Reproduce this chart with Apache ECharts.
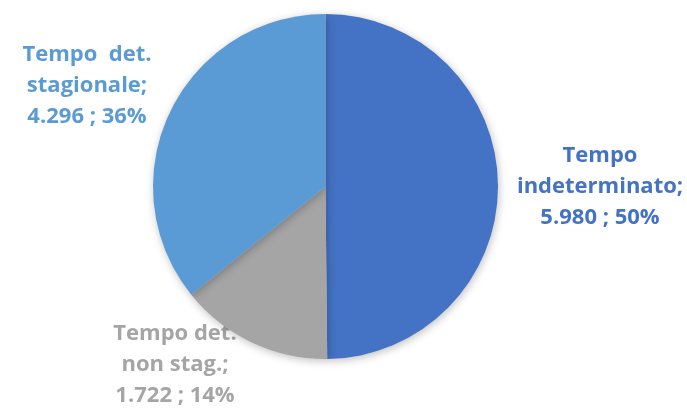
<!DOCTYPE html>
<html>
<head>
<meta charset="utf-8">
<script src="https://cdn.jsdelivr.net/npm/echarts@6/dist/echarts.min.js"></script>
<style>html,body{margin:0;padding:0;background:#fff}#c{width:687px;height:410px}</style>
</head>
<body>
<div id="c"></div>
<script>
var categories = ['Tempo\nindeterminato', 'Tempo det.\nnon stag.', 'Tempo  det.\nstagionale'];
var values = [5980, 1722, 4296];
var colors = ['#4472C4', '#A5A5A5', '#5B9BD5'];
var labelPos = [[600, 187], [175, 365], [87, 86]];

function fmtNum(v) {
  return String(v).replace(/\B(?=(\d{3})+(?!\d))/g, '.');
}
var pieData = categories.map(function (c, i) {
  return { name: c, value: values[i], itemStyle: { color: colors[i] } };
});
var labelData = categories.map(function (c, i) {
  return { name: c, value: values[i], itemStyle: { color: 'rgba(0,0,0,0)' }, label: { color: colors[i] } };
});

var chart = echarts.init(document.getElementById('c'));
chart.setOption({
  animation: false,
  series: [
    {
      type: 'pie', z: 1, center: [325.5, 186.5], radius: 172.5, startAngle: 90, clockwise: true,
      data: labelData, silent: true,
      avoidLabelOverlap: false,
      labelLine: { show: false },
      label: {
        show: true, position: 'outside', alignTo: 'none', overflow: 'none', width: 300,
        fontFamily: 'Open Sans', fontWeight: 'bold', fontSize: 22, lineHeight: 31, align: 'center',
        formatter: function (p) {
          return p.name + ';\n' + fmtNum(p.value) + ' ; ' + Math.round(p.percent) + '%';
        }
      },
      labelLayout: function (p) {
        var pos = labelPos[p.dataIndex];
        return { x: pos[0], y: pos[1], align: 'center', verticalAlign: 'middle' };
      }
    },
    {
      type: 'pie', z: 2, center: [325.5, 186.5], radius: 172.5, startAngle: 90, clockwise: true,
      data: pieData,
      label: { show: false }, labelLine: { show: false },
      itemStyle: { shadowBlur: 8, shadowColor: 'rgba(0,0,0,0.25)', shadowOffsetX: 1, shadowOffsetY: 2 },
      emphasis: { disabled: true }
    }
  ]
});
</script>
</body>
</html>
